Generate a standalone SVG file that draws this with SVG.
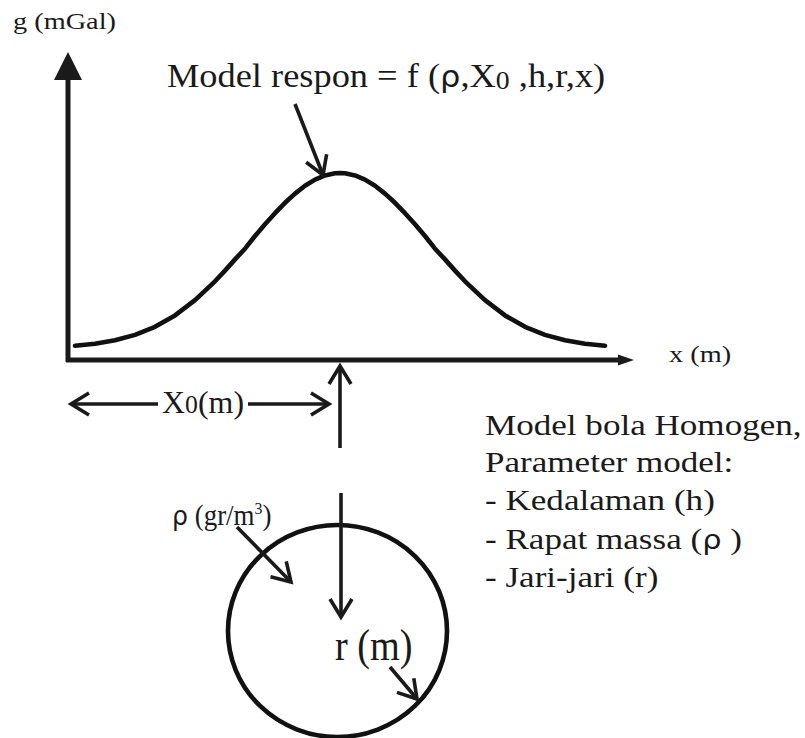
<svg xmlns="http://www.w3.org/2000/svg" width="805" height="738" viewBox="0 0 805 738">
<style>
.t{font-family:"Liberation Serif","Times New Roman",serif;fill:#1a1a1a}
.g{font-family:"DejaVu Sans","Noto Sans",sans-serif}
.ln{stroke:#1a1a1a;stroke-width:3.6;fill:none;stroke-linecap:butt}
.ax{stroke:#1a1a1a;stroke-width:5;fill:none}
</style>
<defs>
<marker id="chev" viewBox="0 0 20 24" refX="19" refY="12" markerWidth="20" markerHeight="24" markerUnits="userSpaceOnUse" orient="auto" overflow="visible">
<path d="M1,1 L19,12 L1,23" fill="none" stroke="#1a1a1a" stroke-width="3.6" stroke-linejoin="miter"/>
</marker>
</defs>
<rect width="805" height="738" fill="#ffffff"/>

<g id="axes">
<line class="ax" x1="68" y1="76" x2="68" y2="362"/>
<polygon points="54,80 68,52 82,80" fill="#1a1a1a"/>
<line class="ax" x1="66" y1="360" x2="624" y2="360"/>
<polygon points="618,354.5 634,360 618,365.5" fill="#1a1a1a"/>
<text class="t" font-size="24" transform="translate(13,29) scale(1.18,1)">g (mGal)</text>
<text class="t" font-size="24" transform="translate(669,362) scale(1.18,1)">x (m)</text>
</g>

<g id="curve">
<polyline fill="none" stroke="#111" stroke-width="4.6" stroke-linejoin="round" stroke-linecap="round" points="75,345.7 95,343.7 115,340.3 135,334.9 155,326.8 175,315.4 195,300.2 215,281.3 225,270.6 235,259.4 245,248.7 255,236.0 265,224.3 275,213.2 285,202.8 295,193.6 305,185.8 315,179.6 325,175.4 335,173.3 340,173 345,173.3 355,175.4 365,179.6 375,185.8 385,193.6 395,202.8 405,213.2 415,224.3 425,236.0 435,248.7 445,259.4 455,270.6 465,281.3 485,300.2 505,315.4 525,326.8 545,334.9 565,340.3 585,343.7 605,345.7"/>
</g>

<g id="title">
<text class="t" font-size="34" transform="translate(167,87) scale(1.07,1)">Model respon = f (<tspan class="g" font-size="30">ρ</tspan>,X<tspan font-size="26" dy="2">0</tspan><tspan dy="-2"> ,h,r,x)</tspan></text>
</g>

<g id="x0-label">
<text class="t" font-size="31" transform="translate(162,413) scale(1.03,1)">X<tspan font-size="25">0</tspan>(m)</text>
</g>

<g id="sphere">
<ellipse cx="337.5" cy="631" rx="109.5" ry="106" fill="none" stroke="#111" stroke-width="4.6"/>
<text class="t" font-size="29" transform="translate(172,525) scale(0.93,1)"><tspan class="g" font-size="27">ρ</tspan> (gr/m<tspan font-size="17" dy="-11">3</tspan><tspan dy="11">)</tspan></text>
<text class="t" font-size="44" transform="translate(335,660) scale(0.87,1)">r (m)</text>
</g>

<g id="parameters">
<text class="t" font-size="30" transform="translate(485,435) scale(1.17,1)">Model bola Homogen,</text>
<text class="t" font-size="30" transform="translate(485,472) scale(1.17,1)">Parameter model:</text>
<text class="t" font-size="30" transform="translate(485,510) scale(1.17,1)">- Kedalaman (h)</text>
<text class="t" font-size="30" transform="translate(485,549) scale(1.17,1)">- Rapat massa (<tspan class="g" font-size="26">ρ</tspan> )</text>
<text class="t" font-size="30" transform="translate(485,587) scale(1.17,1)">- Jari-jari (r)</text>
</g>

<g id="connectors">
<line class="ln" x1="295" y1="104" x2="323" y2="175" marker-end="url(#chev)"/>
<line class="ln" x1="158" y1="404" x2="71" y2="404" marker-end="url(#chev)"/>
<line class="ln" x1="248" y1="404" x2="329" y2="404" marker-end="url(#chev)"/>
<line class="ln" x1="340" y1="448" x2="340" y2="366" marker-end="url(#chev)"/>
<line class="ln" x1="341" y1="493" x2="341" y2="617" marker-end="url(#chev)"/>
<line class="ln" x1="237" y1="527" x2="291" y2="582" marker-end="url(#chev)"/>
<line class="ln" x1="390" y1="667" x2="417" y2="699" marker-end="url(#chev)"/>
</g>
</svg>
